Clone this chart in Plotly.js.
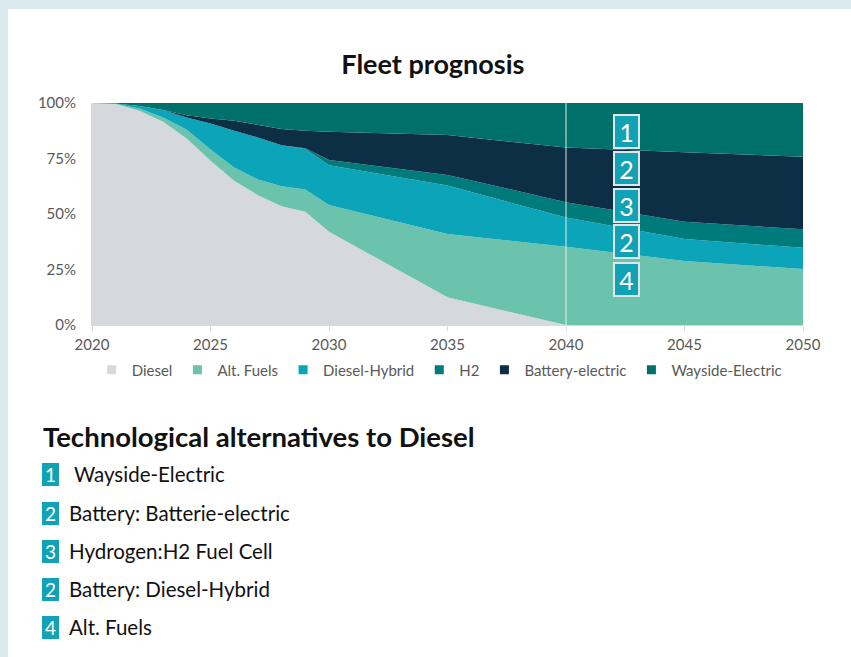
<!DOCTYPE html>
<html>
<head>
<meta charset="utf-8">
<script src="https://cdn.plot.ly/plotly-3.0.1.min.js"></script>
<style>
  html, body { margin: 0; padding: 0; background: #dbeaee; }
  #panel { position: absolute; left: 8px; top: 9px; width: 843px; height: 648px; background: #ffffff; }
  #chart { width: 843px; height: 648px; }
</style>
</head>
<body>
<div id="panel"><div id="chart"></div></div>
<script>
// Fleet share by drive technology, percent of fleet per year (stacked)
const years          = [2020, 2021, 2022, 2023, 2024, 2025, 2026, 2027, 2028, 2029, 2030, 2035, 2040, 2045, 2050];
const diesel         = [100, 99.5, 96.5, 91.5, 84, 74, 65, 58.5, 53.5, 51, 42, 12.5, 0, 0, 0];
const altFuels       = [0, 0.2, 1, 2, 4, 5, 6, 7, 9, 10, 12, 28.5, 35.3, 28.8, 25.2];
const dieselHybrid   = [0, 0.1, 1.1, 3.3, 5.5, 11.8, 16.5, 19, 18.5, 18.3, 18, 21.8, 13.1, 9.9, 9.6];
const h2             = [0, 0, 0, 0, 0, 0, 0, 0, 0, 0.3, 2.3, 4.8, 6.9, 7.8, 8.3];
const batteryElec    = [0, 0, 0, 0, 1, 2.2, 4.5, 5.5, 7.3, 7.9, 12.8, 18, 24.6, 31.3, 32.7];
const waysideElec    = [0, 0.2, 1.4, 3.2, 5.5, 7, 8, 10, 11.7, 12.5, 12.9, 14.4, 20.1, 22.2, 24.2];

const seriesNames  = ['Diesel', 'Alt. Fuels', 'Diesel-Hybrid', 'H2', 'Battery-electric', 'Wayside-Electric'];
const seriesValues = [diesel, altFuels, dieselHybrid, h2, batteryElec, waysideElec];
const seriesColors = ['#d5d9dd', '#6bc2ad', '#0ba4b8', '#007b7c', '#0c2f45', '#00706b'];

const xTicks = [2020, 2025, 2030, 2035, 2040, 2045, 2050];
const yTicks = [0, 25, 50, 75, 100];
const yTickText = ['0%', '25%', '50%', '75%', '100%'];

// Numbered markers on the chart and the key beneath it
const chartBadges = ['1', '2', '3', '2', '4'];
const keyNumbers  = ['1', '2', '3', '2', '4'];
const keyLabels   = [' Wayside-Electric', 'Battery: Batterie-electric', 'Hydrogen:H2 Fuel Cell', 'Battery: Diesel-Hybrid', 'Alt. Fuels'];

const FONT = 'Lato, "Open Sans", sans-serif';
const teal = '#12a2b5';

const traces = [];
seriesNames.forEach((name, i) => {
  traces.push({
    type: 'scatter', x: years, y: seriesValues[i], name: name,
    stackgroup: 'fleet', mode: 'lines', line: { width: 0, color: seriesColors[i] },
    fillcolor: seriesColors[i], showlegend: false, hoverinfo: 'skip', legendgroup: name
  });
});
// square legend swatches
seriesNames.forEach((name, i) => {
  traces.push({
    type: 'scatter', x: [null], y: [null], name: name, mode: 'markers',
    marker: { symbol: 'square', size: 9, color: seriesColors[i] },
    showlegend: true, legendgroup: name, hoverinfo: 'skip'
  });
});

// plot area in the panel: left 84, right 795, top 94, bottom 316
const plotL = 84, plotW = 711, plotT = 94, plotH = 222;
const px = x => (x - plotL) / plotW;
const py = y => (plotT + plotH - y) / plotH;

const annotations = [];
// badges over the 2040s
const badgeY = [122, 159, 196, 232, 270];
chartBadges.forEach((t, i) => {
  annotations.push({
    xref: 'paper', yref: 'paper', x: px(618), y: py(badgeY[i]),
    xanchor: 'center', yanchor: 'middle', showarrow: false,
    text: t, font: { family: FONT, size: 25, color: '#ffffff' },
    bgcolor: teal, bordercolor: '#dfe6e8', borderwidth: 2, borderpad: 0,
    width: 23, height: 31, align: 'center', valign: 'middle'
  });
});

// key heading
annotations.push({
  xref: 'paper', yref: 'paper', x: px(33), y: py(427),
  xanchor: 'left', yanchor: 'middle', showarrow: false,
  text: '<b>Technological alternatives to Diesel</b>',
  font: { family: FONT, size: 27.5, color: '#111111' }
});
// key rows
const rowY = [465, 504, 542, 580, 618];
keyNumbers.forEach((n, i) => {
  annotations.push({
    xref: 'paper', yref: 'paper', x: px(42), y: py(rowY[i]),
    xanchor: 'center', yanchor: 'middle', showarrow: false,
    text: n, font: { family: FONT, size: 19, color: '#ffffff' },
    bgcolor: teal, borderwidth: 0, borderpad: 2, width: 13, height: 19
  });
  annotations.push({
    xref: 'paper', yref: 'paper', x: px(59), y: py(rowY[i]),
    xanchor: 'left', yanchor: 'middle', showarrow: false,
    text: keyLabels[i], font: { family: FONT, size: 20.5, color: '#111111' }
  });
});

const layout = {
  width: 843, height: 648,
  margin: { l: plotL, r: 843 - plotL - plotW, t: plotT, b: 648 - plotT - plotH, pad: 0 },
  paper_bgcolor: '#ffffff', plot_bgcolor: '#ffffff',
  font: { family: FONT, color: '#595959', size: 15 },
  title: {
    text: '<b>Fleet prognosis</b>', x: 0.504, xanchor: 'center', y: 0.915, yanchor: 'middle',
    font: { family: FONT, size: 27, color: '#111111' }
  },
  xaxis: {
    range: [2020, 2050], tickvals: xTicks, ticks: 'outside', ticklen: 5, tickcolor: '#d9d9d9',
    showline: true, linecolor: '#d9d9d9', linewidth: 1, showgrid: false, zeroline: false,
    tickfont: { family: FONT, size: 15, color: '#595959' }, ticklabelstandoff: 1, fixedrange: true
  },
  yaxis: {
    range: [0, 100], tickvals: yTicks, ticktext: yTickText, ticks: '',
    showline: true, linecolor: '#d9d9d9', linewidth: 1, showgrid: false, zeroline: false,
    tickfont: { family: FONT, size: 15, color: '#595959' }, ticklabelstandoff: 12, fixedrange: true
  },
  legend: {
    orientation: 'h', x: 0.489, xanchor: 'center', y: py(361), yanchor: 'middle',
    font: { family: FONT, size: 15, color: '#595959' }, itemwidth: 30, traceorder: 'normal'
  },
  shapes: [{
    type: 'line', xref: 'x', yref: 'paper', x0: 2040, x1: 2040, y0: -0.02, y1: 1.015,
    line: { color: 'rgba(255,255,255,0.85)', width: 1 }, layer: 'above'
  }],
  annotations: annotations,
  showlegend: true, hovermode: false
};

Plotly.newPlot('chart', traces, layout, { displayModeBar: false, staticPlot: true });
</script>
</body>
</html>
